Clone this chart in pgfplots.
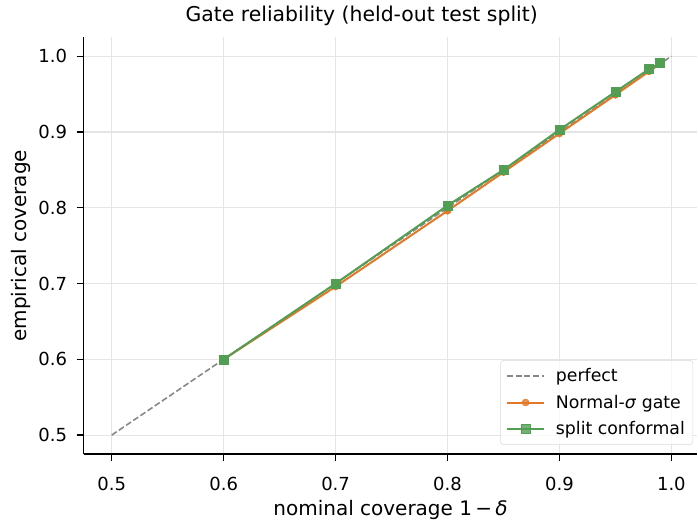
\documentclass[border=0pt]{standalone}
\usepackage{fontspec}
\setmainfont{DejaVu Sans}
\usepackage{pgfplots}
\pgfplotsset{compat=1.18}
\definecolor{corange}{RGB}{226,120,40}
\definecolor{cgreen}{RGB}{82,158,82}
\definecolor{cgrid}{RGB}{229,229,229}
\definecolor{cperf}{RGB}{136,136,136}
\pgfplotsset{
  mylegimg/.style={legend image code/.code={\draw[mark repeat=2,mark phase=2,##1] plot coordinates {(0pt,0pt) (14pt,0pt) (28pt,0pt)};}}
}
\begin{document}
\begin{tikzpicture}
\begin{axis}[
  scale only axis,
  width=460.5pt, height=312.75pt,
  xmin=0.475, xmax=1.0232, ymin=0.475, ymax=1.025,
  axis x line*=bottom, axis y line*=left,
  axis line style={line width=1pt, -},
  xtick={0.5,0.6,0.7,0.8,0.9,1.0},
  ytick={0.5,0.6,0.7,0.8,0.9,1.0},
  tick align=outside, major tick length=5.25pt,
  tick style={line width=0.9pt, black},
  grid=major, major grid style={cgrid, line width=0.8pt},
  /pgf/number format/assume math mode=true,
  /pgf/number format/.cd, fixed, fixed zerofill, precision=1, /pgfplots/.cd,
  ticklabel style={font=\fontsize{13.5}{16}\selectfont},
  xticklabel style={yshift=-8.5pt},
  yticklabel style={xshift=-3.75pt},
  xlabel={nominal coverage 1\,−\,\textit{δ}},
  ylabel={empirical coverage},
  label style={font=\fontsize{15}{18}\selectfont},
  xlabel style={at={(axis description cs:0.5,0)}, anchor=base, yshift=-46pt, inner ysep=0pt, text height=11.4pt, text depth=3.6pt},
  ylabel style={at={(axis description cs:-0.0925,0.5)}, anchor=base, inner ysep=8.85pt, text height=11.4pt, text depth=3.6pt},
  title={Gate reliability (held-out test split)},
  title style={font=\fontsize{15.3}{18}\selectfont, at={(axis description cs:0.453,1)}, anchor=base, yshift=5.5pt, inner ysep=4.9pt, text height=11.6pt, text depth=3.6pt},
  mylegimg,
  legend cell align=left,
  legend style={at={(axis description cs:0.993,0.022)}, anchor=south east,
    draw=black!15, rounded corners=2pt, fill=white, fill opacity=0.8, text opacity=1,
    font=\fontsize{13}{15}\selectfont, row sep=4.5pt, column sep=6pt, inner xsep=4pt, inner ysep=4pt},
]
\addplot[cperf, line width=1.2pt, dash pattern=on 4.5pt off 2pt] coordinates {(0.5,0.5) (1.0,1.0)};
\addlegendentry{perfect}
\addplot[corange, line width=1.5pt, mark=*, mark size=2.6pt, mark options={solid, fill=corange, draw=corange, line width=0.4pt}] coordinates {
(0.6,0.600) (0.7,0.696) (0.8,0.796) (0.85,0.847) (0.9,0.898) (0.95,0.949) (0.98,0.980) (0.99,0.990)};
\addlegendentry{Normal-\textit{σ} gate}
\addplot[cgreen, line width=1.5pt, mark=square*, mark size=3.4pt, mark options={solid, fill=cgreen, draw=cgreen, line width=0.4pt}] coordinates {
(0.6,0.600) (0.7,0.700) (0.8,0.803) (0.85,0.850) (0.9,0.903) (0.95,0.953) (0.98,0.983) (0.99,0.991)};
\addlegendentry{split conformal}
\end{axis}
\end{tikzpicture}
\end{document}
